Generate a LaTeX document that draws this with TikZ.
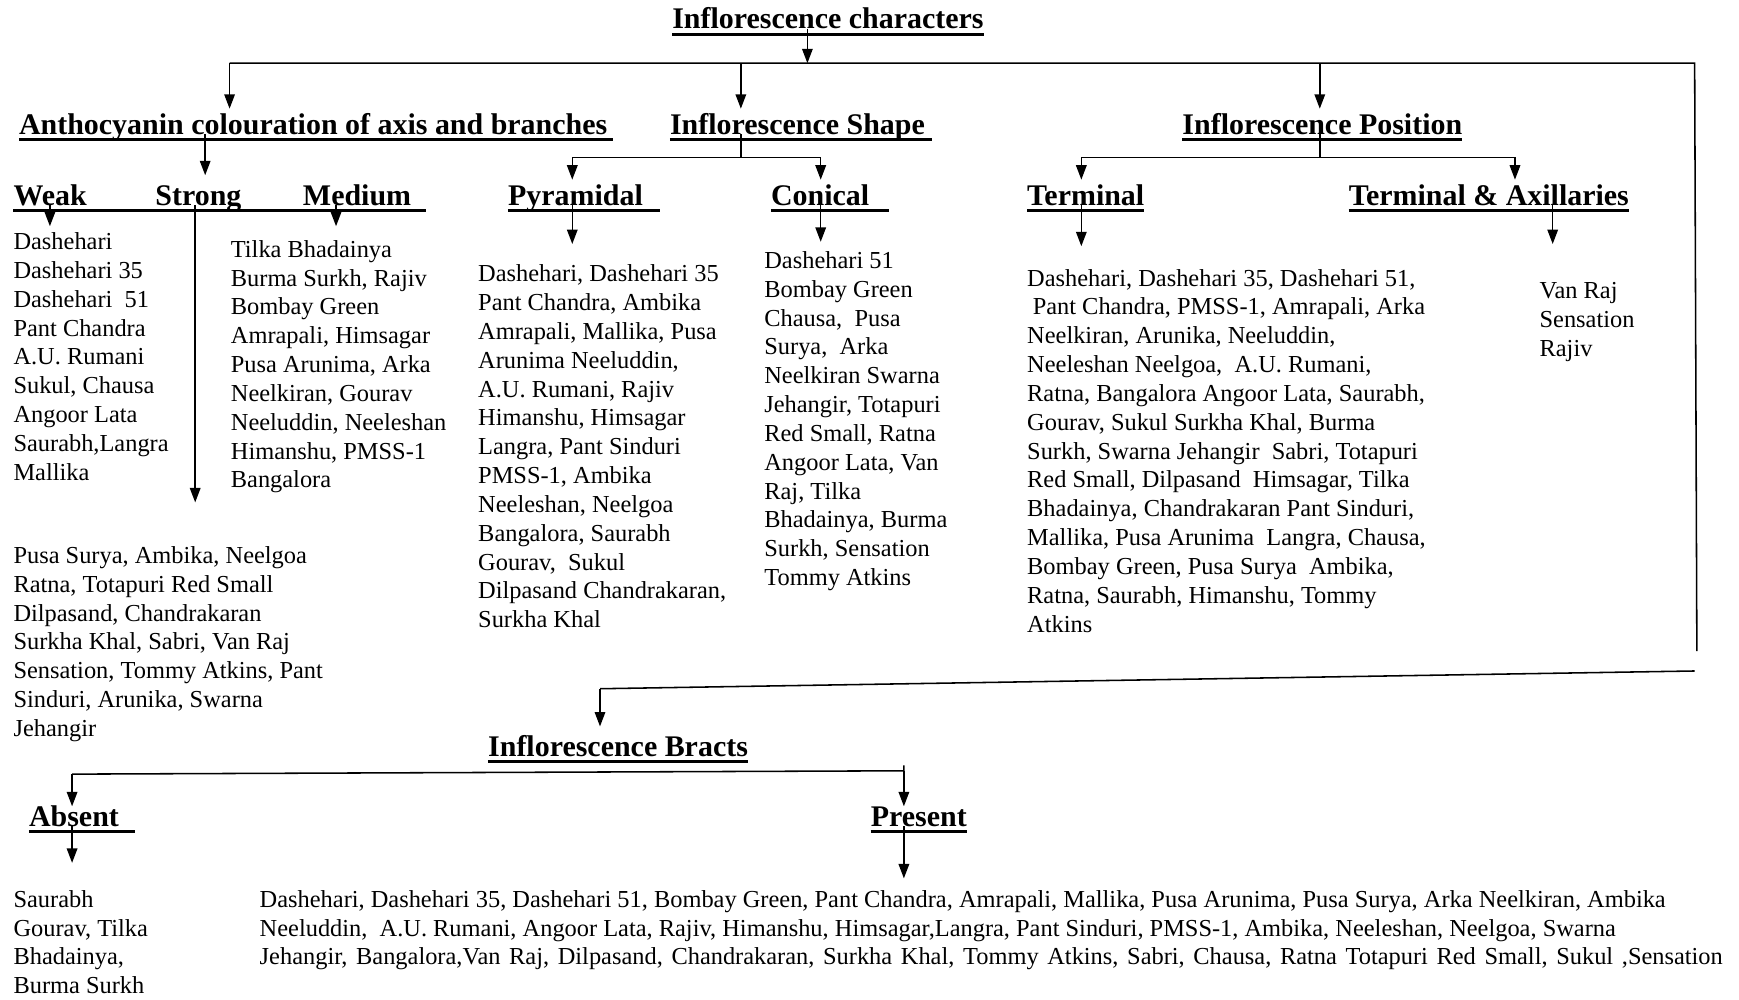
\documentclass[tikz,border=0pt]{standalone}
\usepackage{fontspec}
\setmainfont{Liberation Serif}
\usetikzlibrary{arrows.meta}
\newcommand\hdfont{\fontsize{27}{30}\selectfont\bfseries}
\newcommand\lsfont{\fontsize{22}{26}\selectfont}
\newcommand\ulin[2]{\draw[uline] ([yshift=-5pt]#1.base west) -- ([yshift=-5pt,xshift=#2]#1.base east);}

\begin{document}
\begin{tikzpicture}[x=1pt,y=-1pt,
  hd/.style={font=\hdfont, anchor=base west, inner sep=0pt},
  % a list is placed by the baseline of its last line
  lst/.style={font=\lsfont, anchor=base west, inner sep=0pt, align=left},
  uline/.style={line width=2.6pt},
  wire/.style={line width=1.4pt},
  arr/.style={wire, -{Triangle[length=13pt,width=9.5pt]}}]
\useasboundingbox (0,0) rectangle (1568,901);

% headings
\node[hd] (ttl)    at (606,26)  {Inflorescence characters};
\node[hd] (anth)   at (17,121)  {Anthocyanin colouration of axis and branches};
\node[hd] (shape)  at (604,121) {Inflorescence Shape};
\node[hd] (pos)    at (1066,121) {Inflorescence Position};
\node[hd] (weak)   at (12,185)  {Weak};
\node[hd] (strong) at (140,185) {Strong};
\node[hd] (medium) at (273,185) {Medium};
\node[hd] (pyr)    at (458,185) {Pyramidal};
\node[hd] (con)    at (695,185) {Conical};
\node[hd] (term)   at (926,185) {Terminal};
\node[hd] (tax)    at (1216,185) {Terminal \& Axillaries};
\node[hd] (bract)  at (440,682) {Inflorescence Bracts};
\node[hd] (abs)    at (26,745)  {Absent};
\node[hd] (pres)   at (785,745) {Present};

% underlines
\ulin{ttl}{0pt}
\ulin{anth}{5pt}
\ulin{shape}{6pt}
\ulin{pos}{0pt}
\draw[uline] ([yshift=-5pt]weak.base west) -- ([yshift=-5pt,xshift=13pt]medium.base east);
\ulin{pyr}{15pt}
\ulin{con}{18pt}
\ulin{term}{0pt}
\ulin{tax}{0pt}
\ulin{bract}{0pt}
\ulin{abs}{14pt}
\ulin{pres}{0pt}

% variety lists
\node[lst] (weakl) at (12,433) {Dashehari\\Dashehari 35\\Dashehari\ \ 51\\Pant Chandra\\A.U. Rumani\\Sukul, Chausa\\Angoor Lata\\Saurabh,Langra\\Mallika};
\node[lst] (medl) at (208,440) {Tilka Bhadainya\\Burma Surkh, Rajiv\\Bombay Green\\Amrapali, Himsagar\\Pusa Arunima, Arka\\Neelkiran, Gourav\\Neeluddin, Neeleshan\\Himanshu, PMSS-1\\Bangalora};
\node[lst] (strl) at (12,664) {Pusa Surya, Ambika, Neelgoa\\Ratna, Totapuri Red Small\\Dilpasand, Chandrakaran\\Surkha Khal, Sabri, Van Raj\\Sensation, Tommy Atkins, Pant\\Sinduri, Arunika, Swarna\\Jehangir};
\node[lst] (pyrl) at (431,566) {Dashehari, Dashehari 35\\Pant Chandra, Ambika\\Amrapali, Mallika, Pusa\\Arunima Neeluddin,\\A.U. Rumani, Rajiv\\Himanshu, Himsagar\\Langra, Pant Sinduri\\PMSS-1, Ambika\\Neeleshan, Neelgoa\\Bangalora, Saurabh\\Gourav,\ \ Sukul\\Dilpasand Chandrakaran,\\Surkha Khal};
\node[lst] (conl) at (689,528) {Dashehari 51\\Bombay Green\\Chausa,\ \ Pusa\\Surya,\ \ Arka\\Neelkiran Swarna\\Jehangir, Totapuri\\Red Small, Ratna\\Angoor Lata, Van\\Raj, Tilka\\Bhadainya, Burma\\Surkh, Sensation\\Tommy Atkins};
\node[lst] (terml) at (926,570) {Dashehari, Dashehari 35, Dashehari 51,\\\hspace*{5pt}Pant Chandra, PMSS-1, Amrapali, Arka\\Neelkiran, Arunika, Neeluddin,\\Neeleshan Neelgoa,\ \ A.U. Rumani,\\Ratna, Bangalora Angoor Lata, Saurabh,\\Gourav, Sukul Surkha Khal, Burma\\Surkh, Swarna Jehangir\ \ Sabri, Totapuri\\Red Small, Dilpasand\ \ Himsagar, Tilka\\Bhadainya, Chandrakaran Pant Sinduri,\\Mallika, Pusa Arunima\ \ Langra, Chausa,\\Bombay Green, Pusa Surya\ \ Ambika,\\Ratna, Saurabh, Himanshu, Tommy\\Atkins};
\node[lst] (taxl) at (1388,321) {Van Raj\\Sensation\\Rajiv};
\node[lst] (absl) at (12,896) {Saurabh\\Gourav, Tilka\\Bhadainya,\\Burma Surkh};
\node[lst] (presl) at (234,870) {Dashehari, Dashehari 35, Dashehari 51, Bombay Green, Pant Chandra, Amrapali, Mallika, Pusa Arunima, Pusa Surya, Arka Neelkiran, Ambika\\Neeluddin,\ \ A.U. Rumani, Angoor Lata, Rajiv, Himanshu, Himsagar,Langra, Pant Sinduri, PMSS-1, Ambika, Neeleshan, Neelgoa, Swarna\\\spaceskip=1.42\fontdimen2\font plus 1pt Jehangir, Bangalora,Van Raj, Dilpasand, Chandrakaran, Surkha Khal, Tommy Atkins, Sabri, Chausa, Ratna Totapuri Red Small, Sukul ,Sensation};

% junctions and arrow tips
\coordinate (jT) at (728,57);
\coordinate (jA) at (207,57);
\coordinate (jS) at (668,57);
\coordinate (jP) at (1190,57);
\coordinate (jR) at (1528,57);
\coordinate (jRb) at (1530,587);
\coordinate (jB1) at (1528,605);
\coordinate (jB2) at (541,621);
\coordinate (tA) at (207,98);
\coordinate (tS) at (668,98);
\coordinate (tP) at (1190,98);
\coordinate (tB) at (541,655);
\coordinate (tStr) at (185,158);
\coordinate (tW) at (45,204);
\coordinate (tM) at (303,204);
\coordinate (tSl) at (176,453);
\coordinate (sh) at (668,142);
\coordinate (shL) at (516,142);
\coordinate (shR) at (740,142);
\coordinate (tPyrH) at (516,162);
\coordinate (tConH) at (740,162);
\coordinate (tPyr) at (516,220);
\coordinate (tCon) at (740,218);
\coordinate (po) at (1190,142);
\coordinate (poL) at (975,142);
\coordinate (poR) at (1366,142);
\coordinate (tTermH) at (975,162);
\coordinate (tTaxH) at (1366,162);
\coordinate (tTerm) at (975,222);
\coordinate (tTax) at (1400,220);
\coordinate (brL) at (65,698);
\coordinate (brR) at (815,695);
\coordinate (brRt) at (815,690);
\coordinate (tAbsH) at (65,727);
\coordinate (tPresH) at (815,727);
\coordinate (tAbs) at (65,778);
\coordinate (tPres) at (815,792);

% top level
\draw[arr] (ttl.base -| jT) -- (jT);
\draw[wire] (jA) -- (jR) -- (jRb);
\draw[arr] (jA) -- (tA);
\draw[arr] (jS) -- (tS);
\draw[arr] (jP) -- (tP);
\draw[wire] (jB1) -- (jB2);
\draw[arr] (jB2) -- (tB);

% anthocyanin colouration
\draw[arr] (anth.base -| tStr) -- (tStr);
\draw[arr] (weak.base -| tW) -- (tW);
\draw[arr] (medium.base -| tM) -- (tM);
\draw[arr] (strong.base -| tSl) -- (tSl);

% inflorescence shape
\draw[wire] (shape.base -| sh) -- (sh);
\draw[wire] (shL) -- (shR);
\draw[arr] (shL) -- (tPyrH);
\draw[arr] (shR) -- (tConH);
\draw[arr] (pyr.base -| tPyr) -- (tPyr);
\draw[arr] (con.base -| tCon) -- (tCon);

% inflorescence position
\draw[wire] (pos.base -| po) -- (po);
\draw[wire] (poL) -- (poR);
\draw[arr] (poL) -- (tTermH);
\draw[arr] (poR) -- (tTaxH);
\draw[arr] (term.base -| tTerm) -- (tTerm);
\draw[arr] (tax.base -| tTax) -- (tTax);

% inflorescence bracts
\draw[wire] (brL) -- (brR) -- (brRt);
\draw[arr] (brL) -- (tAbsH);
\draw[arr] (brR) -- (tPresH);
\draw[arr] (abs.base -| tAbs) -- (tAbs);
\draw[arr] (pres.base -| tPres) -- (tPres);
\end{tikzpicture}
\end{document}
